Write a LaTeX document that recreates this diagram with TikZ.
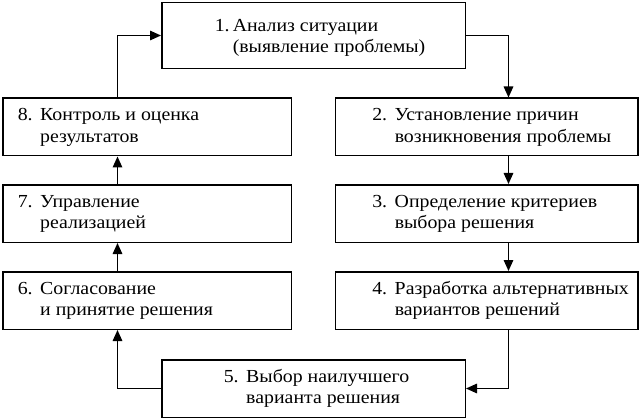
\documentclass[tikz,border=0pt]{standalone}
\usepackage{fontspec}
\setmainfont{Liberation Serif}[FakeStretch=1.08]
\usetikzlibrary{arrows.meta}
\newlength\calw
\newcommand\boxtext[7][0pt]{\makebox[#2][l]{\hspace*{#3}\raisebox{#1}[\height][\depth]{\begin{tabular}{@{}l@{}l@{}}\makebox[#4][l]{#5}&#6\\&#7\end{tabular}}}}
\begin{document}
\settowidth\calw{\normalfont\fontsize{10}{12}\selectfont Разработка альтернативных}%
\pgfmathsetmacro\fsz{10*234/\calw}%
\begin{tikzpicture}[x=1pt,y=-1pt,
  stepbox/.style={draw, line width=1.5pt, inner sep=0pt, anchor=center,
    font=\fontsize{\fsz}{21.5}\selectfont},
  lbox/.style={stepbox, minimum width=288.5pt, minimum height=57.5pt},
  rbox/.style={stepbox, minimum width=302.5pt, minimum height=57.5pt},
  cbox/.style={stepbox, minimum width=303.5pt},
  arr/.style={line width=1.5pt, -{Triangle[length=11pt,width=9.5pt]}}]
\useasboundingbox (0,0) rectangle (641,420);
\node[cbox, minimum height=66pt] (b1) at (313.5,35.5) {\boxtext[-2pt]{303.5pt}{53pt}{18pt}{1.}{Анализ ситуации}{(выявление проблемы)}};
\node[rbox] (b2) at (486.5,127) {\boxtext{302.5pt}{37pt}{22.5pt}{2.}{Установление причин}{возникновения проблемы}};
\node[rbox] (b3) at (486.5,213.5) {\boxtext{302.5pt}{37pt}{22.5pt}{3.}{Определение критериев}{выбора решения}};
\node[rbox] (b4) at (486.5,300.5) {\boxtext{302.5pt}{37pt}{22.5pt}{4.}{Разработка альтернативных}{вариантов решений}};
\node[cbox, minimum height=57.5pt] (b5) at (313.5,388.5) {\boxtext{303.5pt}{62pt}{22.5pt}{5.}{Выбор наилучшего}{варианта решения}};
\node[lbox] (b6) at (147,300.5) {\boxtext{288.5pt}{15pt}{22.5pt}{6.}{Согласование}{и принятие решения}};
\node[lbox] (b7) at (147,213.5) {\boxtext{288.5pt}{15pt}{22.5pt}{7.}{Управление}{реализацией}};
\node[lbox] (b8) at (147,127) {\boxtext{288.5pt}{15pt}{22.5pt}{8.}{Контроль и оценка}{результатов}};
\draw[arr] (b1.east) -| ([xshift=22pt]b2.north);
\draw[arr] ([xshift=22pt]b2.south) -- ([xshift=22pt]b3.north);
\draw[arr] ([xshift=22pt]b3.south) -- ([xshift=22pt]b4.north);
\draw[arr] ([xshift=22pt]b4.south) |- (b5.east);
\draw[arr] (b5.west) -| ([xshift=-29.5pt]b6.south);
\draw[arr] ([xshift=-29.5pt]b6.north) -- ([xshift=-29.5pt]b7.south);
\draw[arr] ([xshift=-29.5pt]b7.north) -- ([xshift=-29.5pt]b8.south);
\draw[arr] ([xshift=-29.5pt]b8.north) |- (b1.west);
\end{tikzpicture}
\end{document}
